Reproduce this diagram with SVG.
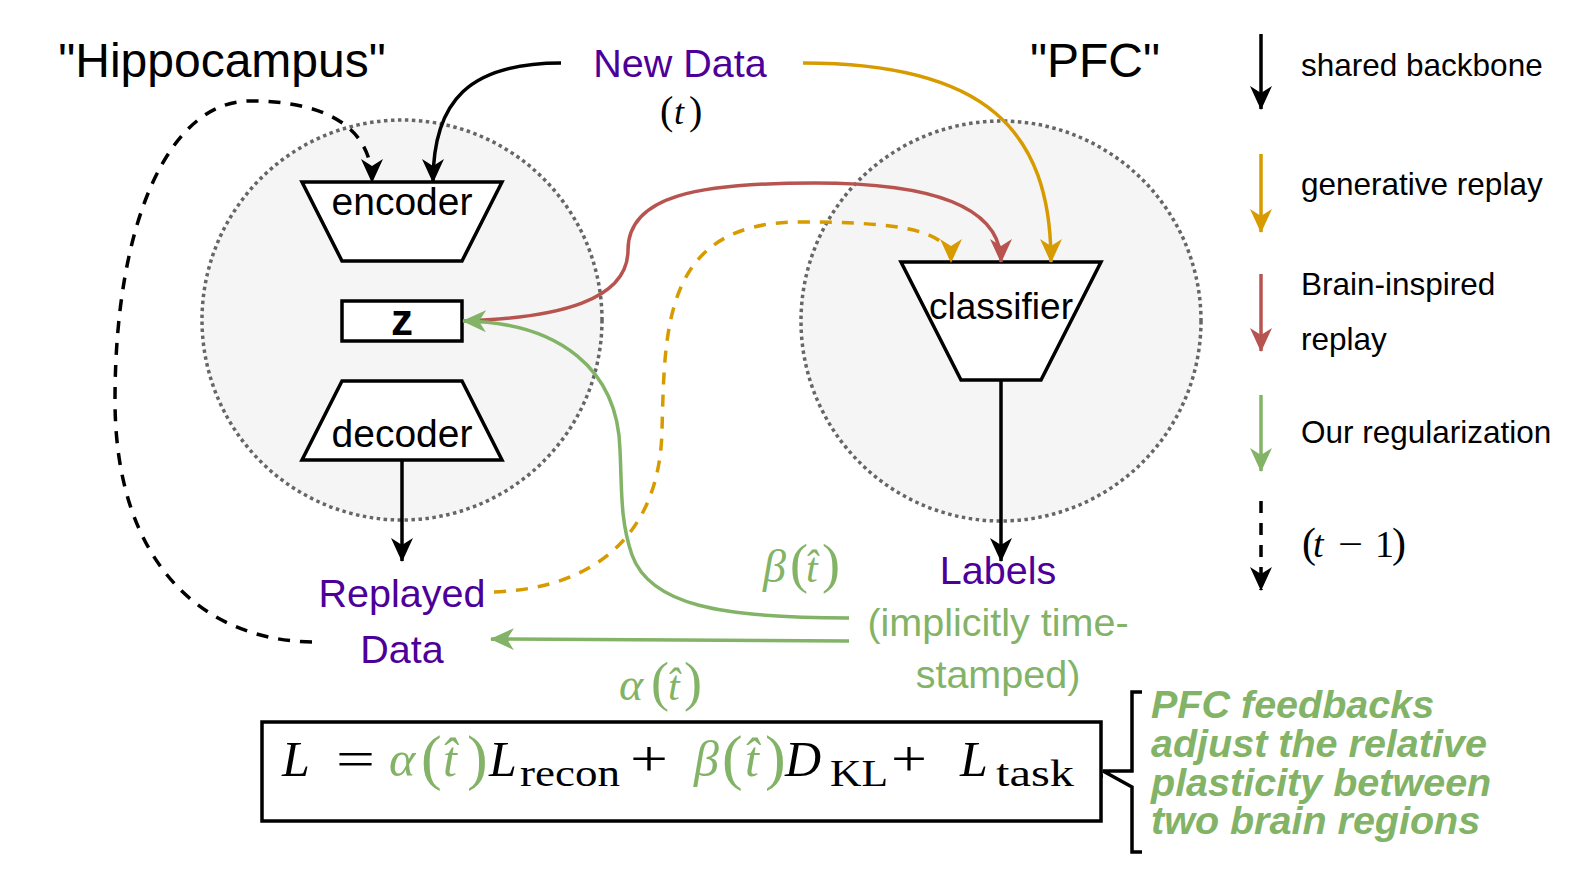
<svg xmlns="http://www.w3.org/2000/svg" width="1580" height="880" viewBox="0 0 1580 880">
<defs>
<style>
.sans{font-family:"Liberation Sans",Arial,sans-serif;}
.math{font-family:"Liberation Serif","Times New Roman",serif;}
.shape{fill:#ffffff;stroke:#000000;stroke-width:3.5;}
.region{fill:#f5f5f5;stroke:#666666;stroke-width:3.5;stroke-dasharray:3.5 3.5;}
.edge{fill:none;stroke-width:3.5;}
.k{stroke:#000000;}
.o{stroke:#d79b00;}
.r{stroke:#b85450;}
.g{stroke:#82b366;}
.dash{stroke-dasharray:12 10;}
.purple{fill:#4c0099;}
.green{fill:#82b366;}
</style>
<marker id="ak" markerUnits="userSpaceOnUse" markerWidth="24" markerHeight="22" refX="23" refY="11" orient="auto"><path d="M0,0 L24,11 L0,22 L7,11 Z" fill="#000000"/></marker>
<marker id="ao" markerUnits="userSpaceOnUse" markerWidth="24" markerHeight="22" refX="23" refY="11" orient="auto"><path d="M0,0 L24,11 L0,22 L7,11 Z" fill="#d79b00"/></marker>
<marker id="ar" markerUnits="userSpaceOnUse" markerWidth="24" markerHeight="22" refX="23" refY="11" orient="auto"><path d="M0,0 L24,11 L0,22 L7,11 Z" fill="#b85450"/></marker>
<marker id="ag" markerUnits="userSpaceOnUse" markerWidth="24" markerHeight="22" refX="23" refY="11" orient="auto"><path d="M0,0 L24,11 L0,22 L7,11 Z" fill="#82b366"/></marker>
</defs>
<rect width="1580" height="880" fill="#ffffff"/>

<g id="regions">
<circle class="region" cx="402" cy="320" r="200"/>
<circle class="region" cx="1001" cy="321" r="200"/>
</g>

<g id="titles" class="sans" font-size="48" text-anchor="middle">
<text x="222" y="77">"Hippocampus"</text>
<text x="1095" y="77">"PFC"</text>
</g>

<g id="encoder">
<path class="shape" d="M302 182 L502 182 L462 261 L342 261 Z"/>
<text class="sans" x="402" y="215" font-size="39" text-anchor="middle">encoder</text>
</g>
<g id="z">
<rect class="shape" x="342" y="301" width="120" height="40"/>
<text class="sans" x="402" y="335" font-size="44" font-weight="bold" text-anchor="middle">z</text>
</g>
<g id="decoder">
<path class="shape" d="M342 381 L462 381 L502 460 L302 460 Z"/>
<text class="sans" x="402" y="447" font-size="39" text-anchor="middle">decoder</text>
</g>
<g id="classifier">
<path class="shape" d="M901 262 L1101 262 L1041 380 L961 380 Z"/>
<text class="sans" x="1001" y="319" font-size="37" text-anchor="middle">classifier</text>
</g>

<g id="newdata">
<text class="sans purple" x="680" y="77" font-size="39.5" text-anchor="middle">New Data</text>
<text class="math" y="124"><tspan x="660" font-size="40">(</tspan><tspan x="674" font-size="36" font-style="italic">t</tspan><tspan x="689" font-size="40">)</tspan></text>
</g>

<g id="replayed" class="sans purple" font-size="39.5" text-anchor="middle">
<text x="402" y="607">Replayed</text>
<text x="402" y="663">Data</text>
</g>

<g id="labels" class="sans" font-size="39.5" text-anchor="middle">
<text class="purple" x="998" y="584">Labels</text>
<text class="green" x="998" y="636">(implicitly time-</text>
<text class="green" x="998" y="688">stamped)</text>
</g>

<g id="connectors">
<path class="edge k" d="M561 63 C470 63 433 100 433 182" marker-end="url(#ak)"/>
<path class="edge k dash" d="M312 642 C200 640 115 560 115 400 C115 220 170 101 250 101 C330 101 372 130 372 182" marker-end="url(#ak)"/>
<path class="edge o" d="M803 63 C985 63 1051 130 1051 262" marker-end="url(#ao)"/>
<path class="edge r" d="M463 321 C560 318 628 300 628 250 C628 195 700 183 815 183 C940 183 1001 210 1001 262" marker-end="url(#ar)"/>
<path class="edge o dash" d="M494 592 C600 588 660 530 662 430 C665 330 662 222 800 222 C900 222 951 230 951 262" marker-end="url(#ao)"/>
<path class="edge g" d="M849 618 C720 618 650 605 632 555 C620 520 622 490 620 450 C618 370 560 322 463 321" marker-end="url(#ag)"/>
<path class="edge g" d="M849 641 L491 639" marker-end="url(#ag)"/>
<path class="edge k" d="M402 461 L402 561" marker-end="url(#ak)"/>
<path class="edge k" d="M1001 381 L1001 561" marker-end="url(#ak)"/>
<path class="edge k" d="M1101 776 L1103 776"/>
</g>

<g id="beta-label" class="math green">
<text y="582"><tspan x="763" font-size="46" font-style="italic">β</tspan><tspan x="790" font-size="54">(</tspan><tspan x="806" font-size="42" font-style="italic">t̂</tspan><tspan x="822" font-size="54">)</tspan></text>
</g>
<g id="alpha-label" class="math green">
<text y="700"><tspan x="619" font-size="46" font-style="italic">α</tspan><tspan x="651" font-size="54">(</tspan><tspan x="668" font-size="42" font-style="italic">t̂</tspan><tspan x="684" font-size="54">)</tspan></text>
</g>

<g id="formula">
<rect class="shape" x="262" y="722" width="839" height="99" fill="none"/>
<text class="math" y="776">
<tspan x="282" font-size="50" font-style="italic">L</tspan>
<tspan x="336" font-size="50" textLength="39" lengthAdjust="spacingAndGlyphs">=</tspan>
<tspan class="green" x="389" font-size="50" font-style="italic">α</tspan>
<tspan class="green" x="421" font-size="62" dy="2">(</tspan>
<tspan class="green" x="443" font-size="50" font-style="italic" dy="-2">t̂</tspan>
<tspan class="green" x="467" font-size="62" dy="2">)</tspan>
<tspan x="489" font-size="50" font-style="italic" dy="-2">L</tspan>
<tspan x="520" font-size="38" dy="10" textLength="100" lengthAdjust="spacingAndGlyphs">recon</tspan>
<tspan x="630" font-size="50" dy="-10" textLength="38" lengthAdjust="spacingAndGlyphs">+</tspan>
<tspan class="green" x="694" font-size="50" font-style="italic">β</tspan>
<tspan class="green" x="722" font-size="62" dy="2">(</tspan>
<tspan class="green" x="745" font-size="50" font-style="italic" dy="-2">t̂</tspan>
<tspan class="green" x="765" font-size="62" dy="2">)</tspan>
<tspan x="785" font-size="50" font-style="italic" dy="-2">D</tspan>
<tspan x="830" font-size="38" dy="10" textLength="58" lengthAdjust="spacingAndGlyphs">KL</tspan>
<tspan x="891" font-size="50" dy="-10" textLength="36" lengthAdjust="spacingAndGlyphs">+</tspan>
<tspan x="960" font-size="50" font-style="italic">L</tspan>
<tspan x="996" font-size="38" dy="10" textLength="78" lengthAdjust="spacingAndGlyphs">task</tspan>
</text>
</g>

<g id="bracket">
<path class="edge k" d="M1142 692 H1132 V771 H1103 L1132 787 V852 H1142"/>
<text class="sans green" font-size="39.5" font-weight="bold" font-style="italic"><tspan x="1151" y="718">PFC feedbacks</tspan><tspan x="1151" y="757">adjust the relative</tspan><tspan x="1151" y="796">plasticity between</tspan><tspan x="1151" y="834">two brain regions</tspan></text>
</g>

<g id="legend">
<path class="edge k" d="M1261 34 V109" marker-end="url(#ak)"/>
<path class="edge o" d="M1261 154 V232" marker-end="url(#ao)"/>
<path class="edge r" d="M1261 274 V351" marker-end="url(#ar)"/>
<path class="edge g" d="M1261 395 V471" marker-end="url(#ag)"/>
<path class="edge k dash" d="M1261 501 V590" marker-end="url(#ak)"/>
<g class="sans" font-size="31.5">
<text x="1301" y="76">shared backbone</text>
<text x="1301" y="195">generative replay</text>
<text x="1301" y="295">Brain-inspired</text>
<text x="1301" y="350">replay</text>
<text x="1301" y="443">Our regularization</text>
</g>
<text class="math" y="557"><tspan x="1302" font-size="42">(</tspan><tspan x="1313" font-size="38" font-style="italic">t</tspan><tspan x="1338" font-size="38" textLength="25" lengthAdjust="spacingAndGlyphs">−</tspan><tspan x="1375" font-size="38">1</tspan><tspan x="1392" font-size="42">)</tspan></text>
</g>
</svg>
